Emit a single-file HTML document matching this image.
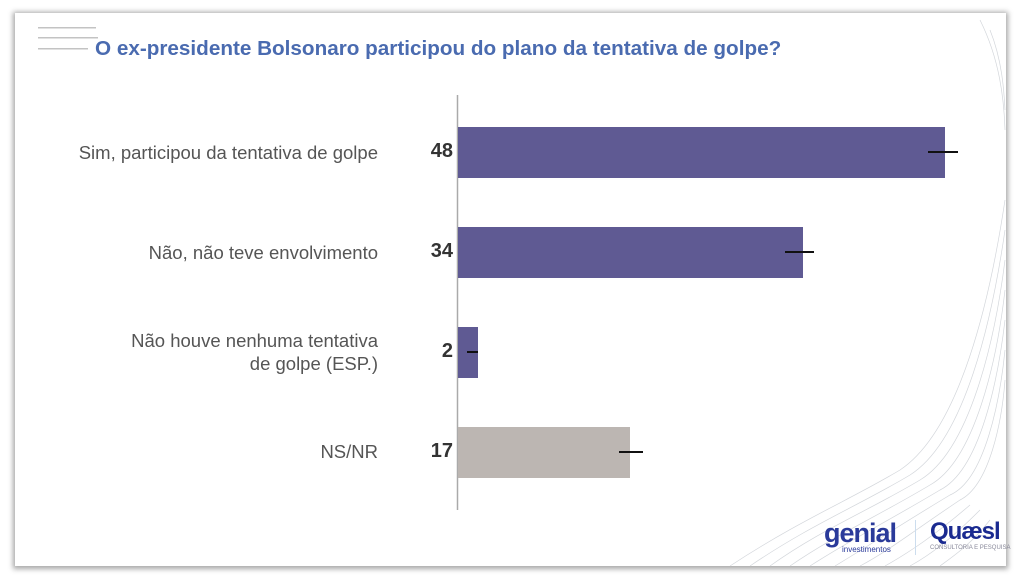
<!DOCTYPE html>
<html><head><meta charset="utf-8"><style>
body{margin:0;width:1024px;height:583px;background:#fff;overflow:hidden;font-family:"Liberation Sans",sans-serif;position:relative}
.slide{position:absolute;left:15px;top:13px;width:991px;height:553px;background:#fff;box-shadow:0 1px 5px 2px rgba(0,0,0,.35)}
.t{position:absolute;white-space:nowrap}
.lab{position:absolute;right:646px;text-align:right;font-size:18.5px;color:#555;line-height:23px;white-space:nowrap}
.num{position:absolute;right:571px;font-size:20px;font-weight:bold;color:#333}
.bar{position:absolute;left:458px;height:51px}
.eb{position:absolute;height:2px;background:#111}
</style></head><body>
<div class="slide"></div>
<svg style="position:absolute;left:0;top:0" width="1024" height="583">
<g fill="none" stroke="#c8ccd2" stroke-width="0.7" opacity="0.8">
<path d="M730 566 C800 520 850 500 900 470 C960 430 990 300 1005 200"/>
<path d="M750 566 C810 525 860 505 910 475 C965 440 992 320 1005 230"/>
<path d="M770 566 C820 530 870 510 920 480 C970 450 995 340 1005 260"/>
<path d="M790 566 C835 535 880 515 930 485 C975 460 997 360 1005 290"/>
<path d="M810 566 C850 540 890 520 940 490 C980 470 998 380 1005 320"/>
<path d="M835 566 C870 545 900 525 950 495 C985 480 1000 400 1005 350"/>
<path d="M860 566 C890 550 915 530 960 500 C990 485 1002 420 1005 380"/>
<path d="M885 566 C910 552 935 535 970 505"/>
<path d="M910 566 C930 555 950 540 980 510"/>
<path d="M940 566 C955 555 970 545 990 520"/>
<path d="M980 20 C1000 60 1004 100 1005 130"/>
<path d="M990 30 C1002 60 1004 90 1005 110"/>
</g>
<g fill="#888"><rect x="38" y="27" width="58" height="1.5" opacity=".5"/><rect x="38" y="37" width="60" height="1.5" opacity=".5"/><rect x="38" y="48" width="50" height="1.5" opacity=".5"/></g>
<line x1="457.5" y1="95" x2="457.5" y2="510" stroke="#aaa" stroke-width="1.5"/>
</svg>
<div class="t" style="left:95px;top:37px;font-size:20.7px;font-weight:bold;color:#4a6bb0">O ex-presidente Bolsonaro participou do plano da tentativa de golpe?</div>
<div class="lab" style="top:141px">Sim, participou da tentativa de golpe</div>
<div class="lab" style="top:241px">Não, não teve envolvimento</div>
<div class="lab" style="top:329px">Não houve nenhuma tentativa<br>de golpe (ESP.)</div>
<div class="lab" style="top:440px">NS/NR</div>
<div class="num" style="top:140px">48</div>
<div class="num" style="top:240px">34</div>
<div class="num" style="top:340px">2</div>
<div class="num" style="top:440px">17</div>
<div class="bar" style="top:127px;width:487px;background:#5f5a93"></div>
<div class="bar" style="top:227px;width:345px;background:#5f5a93"></div>
<div class="bar" style="top:327px;width:20px;background:#5f5a93"></div>
<div class="bar" style="top:427px;width:172px;background:#bcb6b2"></div>
<div class="eb" style="left:928px;top:151px;width:30px"></div>
<div class="eb" style="left:785px;top:251px;width:29px"></div>
<div class="eb" style="left:467px;top:351px;width:11px"></div>
<div class="eb" style="left:619px;top:451px;width:24px"></div>
<div class="t" style="left:824px;top:518px;font-size:27px;font-weight:bold;color:#2a3a9a;letter-spacing:-1px">genial</div>
<div class="t" style="left:842px;top:545px;font-size:8px;color:#2a3a9a">investimentos</div>
<div style="position:absolute;left:915px;top:520px;width:1px;height:35px;background:#cde"></div>
<div class="t" style="left:930px;top:518px;font-size:24px;font-weight:bold;color:#1a2a90;letter-spacing:-1px">Quæsl</div>
<div class="t" style="left:930px;top:545px;font-size:6px;color:#889">CONSULTORIA E PESQUISA</div>
</body></html>
